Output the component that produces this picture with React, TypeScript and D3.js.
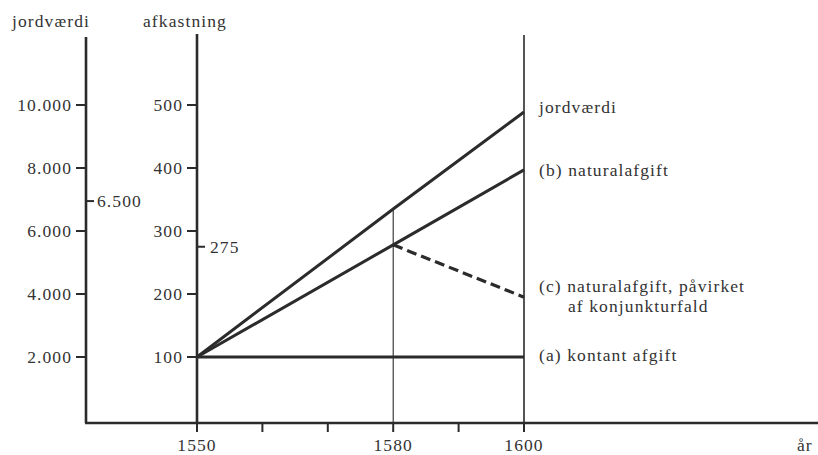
import React from "react";
import * as d3 from "d3";

// ---- data ----
const years = [1550, 1580, 1600];
const jordvaerdi = [2000, 6700, 9780]; // kr, left axis
const naturalafgift = [100, 278, 397]; // (b)
const konjunkturYears = [1580, 1600];
const konjunktur = [278, 195]; // (c)
const kontantYears = [1550, 1600];
const kontant = [100, 100]; // (a)

const leftTicks = [2000, 4000, 6000, 8000, 10000];
const rightTicks = [100, 200, 300, 400, 500];
const xMajorTicks = [1550, 1580, 1600];
const xMinorTicks = [1560, 1570, 1590];
const leftMarker = { label: "6.500", at: 6950 };
const rightMarker = { label: "275", at: 275 };

const seriesLabels = [
  { lines: ["jordværdi"], value: 497 },
  { lines: ["(b) naturalafgift"], value: 397 },
  { lines: ["(c) naturalafgift, påvirket", "af konjunkturfald"], value: 213 },
  { lines: ["(a) kontant afgift"], value: 103 },
];

const W = 818;
const H = 455;
const INK = "#2b2b2b";
const TXT = "#333";
const FONT = "Times New Roman, Liberation Serif, Times, serif";

const fmt = (v: number) => d3.format(",")(v).replace(/,/g, ".");

export default function App() {
  const x = d3.scaleLinear().domain([1550, 1600]).range([197, 524]);
  const yR = d3.scaleLinear().domain([100, 500]).range([357, 105]);
  const yL = d3.scaleLinear().domain([2000, 10000]).range([357, 105]);

  const leftX = 86;
  const rightX = x(1550);
  const baseY = 423;

  const lineL = d3
    .line<number>()
    .x((_, i) => x(years[i]))
    .y((d) => yL(d));
  const lineR = (ys: number[]) =>
    d3
      .line<number>()
      .x((_, i) => x(ys[i]))
      .y((d) => yR(d));

  const jordAt1580 = yL(jordvaerdi[1]);
  const textStyle: React.CSSProperties = {
    fontFamily: FONT,
    fontSize: 17.5,
    letterSpacing: 1.1,
    fill: TXT,
  };

  return (
    <svg
      width={W}
      height={H}
      style={{ position: "absolute", left: 0, top: 0, background: "#fff" }}
    >
      {/* axis titles */}
      <text x={12} y={27} style={textStyle}>jordværdi</text>
      <text x={143} y={27} style={textStyle}>afkastning</text>

      {/* left axis */}
      <line x1={leftX} x2={leftX} y1={37} y2={baseY} stroke={INK} strokeWidth={2.6} />
      {leftTicks.map((t) => (
        <g key={t}>
          <line x1={leftX - 10} x2={leftX} y1={yL(t)} y2={yL(t)} stroke={INK} strokeWidth={2} />
          <text x={leftX - 14} y={yL(t) + 6} textAnchor="end" style={textStyle}>
            {fmt(t)}
          </text>
        </g>
      ))}
      <line x1={leftX} x2={leftX + 8} y1={yL(leftMarker.at)} y2={yL(leftMarker.at)} stroke={INK} strokeWidth={2} />
      <text x={leftX + 11} y={yL(leftMarker.at) + 6} style={textStyle}>{leftMarker.label}</text>

      {/* right axis */}
      <line x1={rightX} x2={rightX} y1={34} y2={baseY} stroke={INK} strokeWidth={2.6} />
      {rightTicks.map((t) => (
        <g key={t}>
          <line x1={rightX - 10} x2={rightX} y1={yR(t)} y2={yR(t)} stroke={INK} strokeWidth={2} />
          <text x={rightX - 14} y={yR(t) + 6} textAnchor="end" style={textStyle}>
            {t}
          </text>
        </g>
      ))}
      <line x1={rightX} x2={rightX + 8} y1={yR(rightMarker.at)} y2={yR(rightMarker.at)} stroke={INK} strokeWidth={2} />
      <text x={rightX + 13} y={yR(rightMarker.at) + 6} style={textStyle}>{rightMarker.label}</text>

      {/* bottom axis */}
      <line x1={leftX - 1} x2={W} y1={baseY} y2={baseY} stroke={INK} strokeWidth={2.6} />
      {[...xMajorTicks, ...xMinorTicks].map((t) => (
        <line key={t} x1={x(t)} x2={x(t)} y1={baseY} y2={baseY + 9} stroke={INK} strokeWidth={2} />
      ))}
      {xMajorTicks.map((t) => (
        <text key={t} x={x(t)} y={451} textAnchor="middle" style={textStyle}>
          {t}
        </text>
      ))}
      <text x={797} y={451} style={textStyle}>år</text>

      {/* vertical reference lines */}
      <line x1={x(1600)} x2={x(1600)} y1={35} y2={baseY} stroke={INK} strokeWidth={1.6} />
      <line x1={x(1580)} x2={x(1580)} y1={jordAt1580} y2={baseY} stroke={INK} strokeWidth={1.1} />

      {/* series */}
      <path d={lineL(jordvaerdi) || ""} fill="none" stroke={INK} strokeWidth={3} />
      <path d={lineR(years)(naturalafgift) || ""} fill="none" stroke={INK} strokeWidth={3} />
      <path
        d={lineR(konjunkturYears)(konjunktur) || ""}
        fill="none"
        stroke={INK}
        strokeWidth={3.2}
        strokeDasharray="10 5"
      />
      <path d={lineR(kontantYears)(kontant) || ""} fill="none" stroke={INK} strokeWidth={3} />

      {/* series labels */}
      {seriesLabels.map((s, i) => (
        <text key={i} x={539} y={yR(s.value) + 6} style={textStyle}>
          {s.lines.map((ln, j) => (
            <tspan key={j} x={j === 0 ? 539 : 568} dy={j === 0 ? 0 : 20}>
              {ln}
            </tspan>
          ))}
        </text>
      ))}
    </svg>
  );
}
